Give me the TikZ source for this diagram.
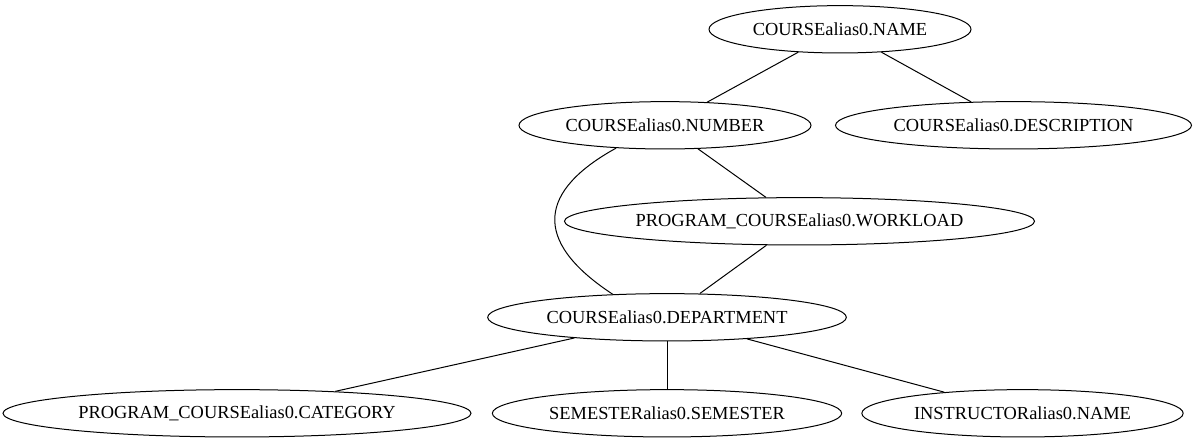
\documentclass[tikz,border=0pt]{standalone}
\usepackage{fontspec}
\setmainfont{Liberation Serif}
\usetikzlibrary{shapes.geometric}
\begin{document}
\begin{tikzpicture}[x=0.75pt,y=-0.75pt,
  attr/.style={draw=black, line width=0.75pt, ellipse, inner sep=0pt,
    minimum height=35.5pt, font=\fontsize{13.8pt}{16pt}\selectfont},
  link/.style={draw=black, line width=0.75pt}]
\useasboundingbox (0,0) rectangle (1196,443);
\node[attr, minimum width=196.5pt] (name) at (840,29.3) {COURSEalias0.NAME};
\node[attr, minimum width=219pt] (num) at (665,125.3) {COURSEalias0.NUMBER};
\node[attr, minimum width=267pt] (desc) at (1013.5,125.3) {COURSEalias0.DESCRIPTION};
\node[attr, minimum width=352.5pt] (work) at (799.5,221.3) {PROGRAM\_COURSEalias0.WORKLOAD};
\node[attr, minimum width=269pt] (dept) at (667,317.3) {COURSEalias0.DEPARTMENT};
\node[attr, minimum width=351pt] (cat) at (237,413.3) {PROGRAM\_COURSEalias0.CATEGORY};
\node[attr, minimum width=262pt] (sem) at (667,413.3) {SEMESTERalias0.SEMESTER};
\node[attr, minimum width=241pt] (inst) at (1022.5,413.3) {INSTRUCTORalias0.NAME};
\draw[link] (name) -- (num);
\draw[link] (name) -- (desc);
\draw[link] (num) -- (work);
\draw[link] (num.205) .. controls (540,190) and (530,240) .. (dept.157);
\draw[link] (work) -- (dept);
\draw[link] (dept) -- (cat);
\draw[link] (dept) -- (sem);
\draw[link] (dept) -- (inst);
\end{tikzpicture}
\end{document}
